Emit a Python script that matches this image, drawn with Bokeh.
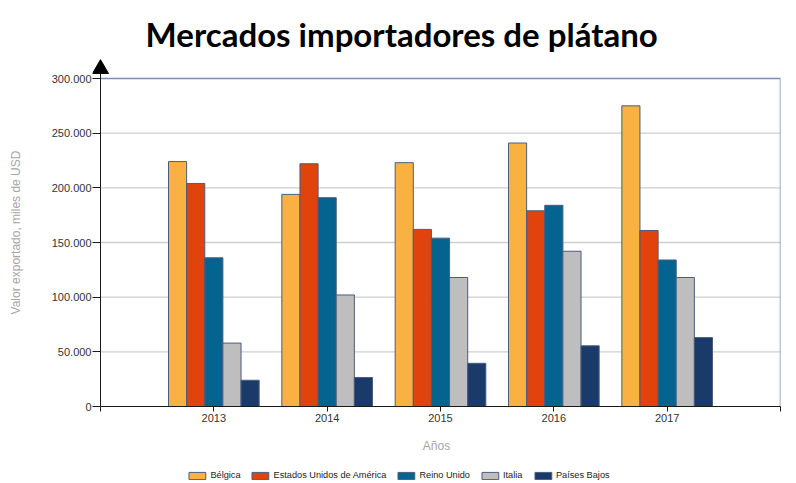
from bokeh.plotting import figure
from bokeh.layouts import column
from bokeh.models import (ColumnDataSource, Range1d, FixedTicker, CustomJSTickFormatter,
                          Legend, LegendItem)
from bokeh.core.properties import value
from bokeh.embed import file_html
from bokeh.resources import INLINE

title_text = ["Mercados importadores de plátano"]
years = ["2013", "2014", "2015", "2016", "2017"]
series_names = ["Bélgica", "Estados Unidos de América", "Reino Unido", "Italia", "Países Bajos"]
belgica = [224000, 194000, 223000, 241000, 275000]
eeuu = [204000, 222000, 162000, 179000, 161000]
reino_unido = [136000, 191000, 154000, 184000, 134000]
italia = [58000, 102000, 118000, 142000, 118000]
paises_bajos = [24000, 26500, 39500, 55500, 63000]
y_ticks = [0, 50000, 100000, 150000, 200000, 250000, 300000]

colors = ["#F9B242", "#E0430C", "#05648F", "#BEBEBE", "#1A3A6A"]
values = [belgica, eeuu, reino_unido, italia, paises_bajos]

W = 796
H0, H1, H2 = 56, 411, 16
n = len(years)
x_max = n + 1
y_max = y_ticks[-1]

# ---------- title strip ----------
p0 = figure(width=W, height=H0, output_backend="svg", toolbar_location=None,
            x_range=Range1d(0, 1), y_range=Range1d(0, 1),
            x_axis_location=None, y_axis_location=None, min_border=0,
            outline_line_color=None, frame_align=False)
p0.grid.visible = False
p0.text(x=[0.504], y=[0.393], text=title_text, text_align="center",
        text_baseline="alphabetic", text_font=value("Lato"), text_font_size="33px",
        text_font_style="bold", text_color="#000000")

# ---------- main chart ----------
# x range starts a little left of 0 so the axis arrow head fits inside the frame
p = figure(width=W, height=H1, output_backend="svg", toolbar_location=None,
           x_range=Range1d(-48 / 680, x_max), y_range=Range1d(0, y_max * 348 / 328),
           min_border_left=92, min_border_right=16, min_border_top=2, min_border_bottom=61,
           outline_line_color=None, frame_align=False)

# grid lines and top/right frame border
grid_y = y_ticks[1:-1]
p.segment(x0=[0] * len(grid_y), x1=[x_max] * len(grid_y), y0=grid_y, y1=grid_y,
          line_color="#CFCFCF", line_width=1.3)
p.segment(x0=[0, x_max], x1=[x_max, x_max], y0=[y_max, 0], y1=[y_max, y_max],
          line_color="#7A8DB0", line_width=1.5)

bar_w = 0.16
offsets = [-0.32, -0.16, 0.0, 0.16, 0.32]
for name, vals, col, off in zip(series_names, values, colors, offsets):
    src = ColumnDataSource(dict(x=[i + 1 + off for i in range(n)], top=vals))
    p.vbar(x="x", top="top", width=bar_w, source=src, fill_color=col,
           line_color="#4A5C7E", line_width=1)

# y axis line with arrow head
p.segment(x0=[0], x1=[0], y0=[0], y1=[y_max * 1.016], line_color="#1A1A1A", line_width=1)
p.scatter(x=[0], y=[y_max * 1.0293], marker="triangle", size=16,
          fill_color="black", line_color="black")

# axes
p.xaxis.bounds = (0, x_max)
p.xaxis.ticker = FixedTicker(ticks=list(range(0, x_max + 1)))
overrides = {0: "", x_max: ""}
for i, yr in enumerate(years):
    overrides[i + 1] = yr
p.xaxis.major_label_overrides = overrides
p.xaxis.axis_label = "Años"
p.xaxis.axis_label_text_font = "Liberation Sans"
p.xaxis.axis_label_text_font_size = "12px"
p.xaxis.axis_label_text_font_style = "normal"
p.xaxis.axis_label_text_color = "#A6A6A6"
p.xaxis.axis_label_standoff = 14
p.xaxis.minor_tick_line_color = None
p.xaxis.major_tick_in = 0
p.xaxis.major_tick_out = 5
p.xaxis.major_label_standoff = 2
p.xaxis.axis_line_color = "#1A1A1A"

p.yaxis.ticker = FixedTicker(ticks=y_ticks)
p.yaxis.formatter = CustomJSTickFormatter(
    code="return Math.round(tick).toString().replace(/\\B(?=(\\d{3})+(?!\\d))/g, '.');")
p.yaxis.axis_label = "Valor exportado, miles de USD"
p.yaxis.axis_label_text_font = "Liberation Sans"
p.yaxis.axis_label_text_font_size = "12px"
p.yaxis.axis_label_text_font_style = "normal"
p.yaxis.axis_label_text_color = "#A6A6A6"
p.yaxis.axis_label_standoff = 26
p.yaxis.minor_tick_line_color = None
p.yaxis.major_tick_in = 8
p.yaxis.major_tick_out = 0
p.yaxis.major_label_standoff = 1
p.yaxis.axis_line_color = None

for ax in (p.xaxis, p.yaxis):
    ax.major_label_text_font = "Liberation Sans"
    ax.major_label_text_font_size = "11px"
    ax.major_label_text_color = "#333333"
    ax.major_tick_line_color = "#1A1A1A"

p.grid.visible = False

# ---------- legend strip ----------
p2 = figure(width=W, height=H2, output_backend="svg", toolbar_location=None,
            x_range=Range1d(0, 1), y_range=Range1d(0, 1),
            x_axis_location=None, y_axis_location=None, min_border=0,
            outline_line_color=None, frame_align=False)
p2.grid.visible = False
items = []
for name, col in zip(series_names, colors):
    r = p2.vbar(x=[5], top=[1], width=0.1, fill_color=col, line_color="#4A5C7E", line_width=1)
    items.append(LegendItem(label=name, renderers=[r]))
legend = Legend(items=items, orientation="horizontal", location="center",
                margin=0, padding=0, spacing=9, label_standoff=3,
                glyph_width=21, glyph_height=9, label_height=10,
                label_text_font="Liberation Sans", label_text_font_size="9.2px",
                label_text_color="#222222", border_line_alpha=0,
                background_fill_alpha=0)
p2.add_layout(legend, "center")

open("out.html", "w").write(file_html(column(p0, p, p2, spacing=0), INLINE))
